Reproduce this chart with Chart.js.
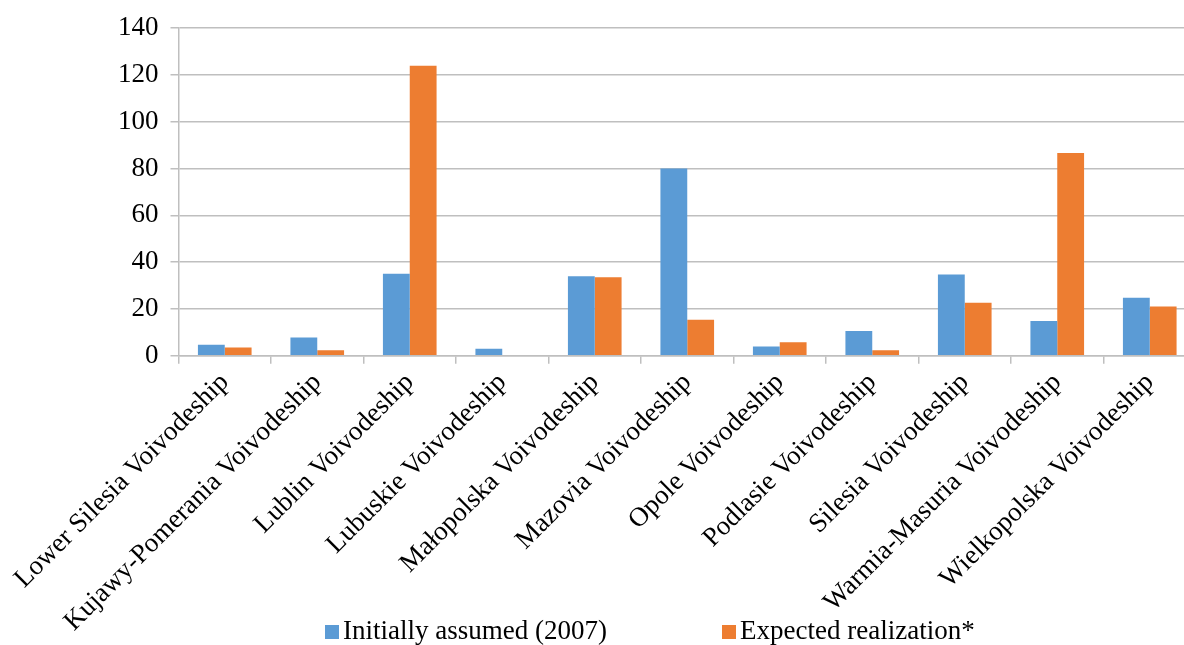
<!DOCTYPE html>
<html>
<head>
<meta charset="utf-8">
<script src="https://cdn.jsdelivr.net/npm/chart.js@4/dist/chart.umd.min.js"></script>
<style>
    html, body { margin: 0; padding: 0; overflow: hidden; background: #fff; }
    #wrap { position: relative; width: 1184px; height: 645px; overflow: hidden; }
    #legend {
        position: absolute; top: 616px; left: 0; width: 1184px; height: 29px;
        font-family: 'Liberation Serif', 'Times New Roman', serif; font-size: 27px; color: #000;
    }
    .item { position: absolute; top: 0; white-space: nowrap; line-height: 29px; }
    .box { display: inline-block; width: 14px; height: 14px; margin-right: 4px; vertical-align: 0px; }
</style>
</head>
<body>
<div id="wrap">
    <canvas id="regionsChart" width="1210" height="645"></canvas>
    <div id="legend"></div>
</div>
<script>
// data
const categories = [
    'Lower Silesia Voivodeship', 'Kujawy-Pomerania Voivodeship',
    'Lublin Voivodeship', 'Lubuskie Voivodeship',
    'Małopolska Voivodeship', 'Mazovia Voivodeship',
    'Opole Voivodeship', 'Podlasie Voivodeship',
    'Silesia Voivodeship', 'Warmia-Masuria Voivodeship',
    'Wielkopolska Voivodeship'];
const initiallyAssumed = [4.7, 7.8, 35, 3, 34, 80, 4, 10.6, 34.7, 14.9, 24.8];
const expectedRealization = [3.5, 2.4, 124, 0, 33.6, 15.4, 5.8, 2.4, 22.7, 86.7, 21];
const seriesNames = ['Initially assumed (2007)', 'Expected realization*'];
const yTicks = [0, 20, 40, 60, 80, 100, 120, 140];

const blue = '#5b9bd5';
const orange = '#ed7d31';
const gridColor = '#bfbfbf';
const font = "'Liberation Serif', 'Times New Roman', serif";

const barChart = new Chart(document.getElementById('regionsChart'), {
    type: 'bar',
    data: {
        labels: categories,
        datasets: [{
            label: seriesNames[0],
            data: initiallyAssumed,
            backgroundColor: blue,
            categoryPercentage: 0.58,
            barPercentage: 1.0
        }, {
            label: seriesNames[1],
            data: expectedRealization,
            backgroundColor: orange,
            categoryPercentage: 0.58,
            barPercentage: 1.0
        }]
    },
    options: {
        responsive: false,
        animation: false,
        devicePixelRatio: 1,
        layout: { padding: { top: 22, left: 106, right: 14, bottom: 4 } },
        plugins: {
            legend: { display: false },
            tooltip: { enabled: false }
        },
        scales: {
            x: {
                grid: { offset: true, drawOnChartArea: false, drawTicks: true, tickLength: 8, color: gridColor, lineWidth: 1.5 },
                border: { color: gridColor, width: 1.5 },
                ticks: {
                    autoSkip: false, minRotation: 45, maxRotation: 45,
                    color: '#000', font: { family: font, size: 27 }
                }
            },
            y: {
                min: 0, max: 140,
                afterBuildTicks: scale => { scale.ticks = yTicks.map(v => ({ value: v })); },
                grid: { color: gridColor, lineWidth: 1.5, tickLength: 8 },
                border: { color: gridColor, width: 1.5 },
                ticks: { padding: 12, color: '#000', font: { family: font, size: 27 } }
            }
        }
    }
});

// legend below the axis labels
const legend = document.getElementById('legend');
const legendPos = [325, 722];
[blue, orange].forEach((c, i) => {
    const item = document.createElement('div');
    item.className = 'item';
    item.style.left = legendPos[i] + 'px';
    item.innerHTML = '<span class="box" style="background:' + c + '"></span>' + seriesNames[i];
    legend.appendChild(item);
});
</script>
</body>
</html>
